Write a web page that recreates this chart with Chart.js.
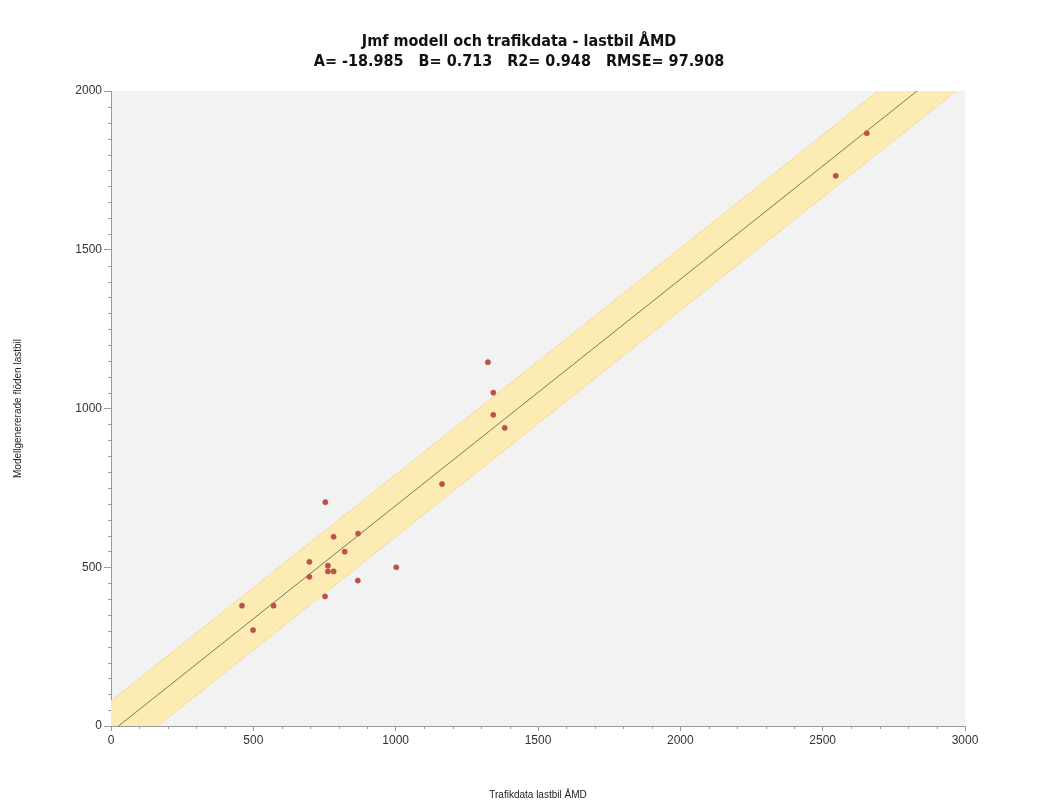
<!DOCTYPE html>
<html>
<head>
<meta charset="utf-8">
<title>Jmf modell och trafikdata - lastbil ÅMD</title>
<script src="https://cdn.jsdelivr.net/npm/chart.js@4/dist/chart.umd.min.js"></script>
<style>
  html, body { margin: 0; padding: 0; background: #fff; }
  canvas { display: block; }
</style>
</head>
<body>
<canvas id="jmfChart" width="1060" height="801"></canvas>
<script>
// Trafikdata (x) och modellgenererade flöden (y), lastbil ÅMD
const trafikdata = [460, 499, 571, 697, 697, 753, 752, 762, 762, 782, 782, 821, 868, 867, 1002, 1163, 1324, 1343, 1343, 1383, 2546, 2655];
const modell = [379, 302, 379, 517, 470, 705, 408, 505, 487, 487, 596, 549, 606, 458, 500, 762, 1146, 1050, 980, 939, 1733, 1867];

// regression from title
const fitA = -18.985;
const fitB = 0.713;
const fitR2 = 0.948;
const fitRMSE = 97.908;
const fitX = [0, 3000];

const xTicks = [0, 500, 1000, 1500, 2000, 2500, 3000];
const yTicks = [0, 500, 1000, 1500, 2000];
const xMinorStep = 100;
const yMinorStep = 50;

const points = trafikdata.map((x, i) => ({ x: x, y: modell[i] }));
const fitLine = fitX.map(x => ({ x: x, y: fitA + fitB * x }));
const bandUpper = fitX.map(x => ({ x: x, y: fitA + fitB * x + fitRMSE }));
const bandLower = fitX.map(x => ({ x: x, y: fitA + fitB * x - fitRMSE }));

const axisColor = "#9a9a9a";

// grå bakgrund i diagramytan
const plotBackground = {
    id: "plotBackground",
    beforeDraw(chart) {
        const { ctx, chartArea } = chart;
        ctx.save();
        ctx.fillStyle = "#f2f2f2";
        ctx.fillRect(chartArea.left, chartArea.top, chartArea.right - chartArea.left, chartArea.bottom - chartArea.top);
        ctx.restore();
    },
};

// små mellanstreck på axlarna
const minorTicks = {
    id: "minorTicks",
    afterDraw(chart) {
        const { ctx, chartArea } = chart;
        const xs = chart.scales.x;
        const ys = chart.scales.y;
        ctx.save();
        ctx.strokeStyle = axisColor;
        ctx.lineWidth = 1;
        ctx.beginPath();
        for (let v = xs.min; v <= xs.max; v += xMinorStep) {
            if (v % 500 === 0) continue;
            const px = Math.round(xs.getPixelForValue(v)) + 0.5;
            ctx.moveTo(px, chartArea.bottom);
            ctx.lineTo(px, chartArea.bottom + 3);
        }
        for (let v = ys.min; v <= ys.max; v += yMinorStep) {
            if (v % 500 === 0) continue;
            const py = Math.round(ys.getPixelForValue(v)) + 0.5;
            ctx.moveTo(chartArea.left, py);
            ctx.lineTo(chartArea.left - 3, py);
        }
        ctx.stroke();
        ctx.restore();
    },
};

const ctx = document.getElementById("jmfChart").getContext("2d");
new Chart(ctx, {
    type: "scatter",
    data: {
        datasets: [
            {
                data: points,
                backgroundColor: "#c0504d",
                borderColor: "#b4463f",
                borderWidth: 0.5,
                pointRadius: 2.6,
                order: 0,
            },
            {
                type: "line",
                data: fitLine,
                borderColor: "#5a5a4a",
                borderWidth: 0.8,
                pointRadius: 0,
                fill: false,
                order: 1,
            },
            {
                type: "line",
                data: bandUpper,
                borderColor: "#f3dc9c",
                borderWidth: 1,
                pointRadius: 0,
                fill: false,
                order: 2,
            },
            {
                type: "line",
                data: bandLower,
                borderColor: "#f3dc9c",
                borderWidth: 1,
                backgroundColor: "#fcebb2",
                pointRadius: 0,
                fill: "-1",
                order: 3,
            },
        ],
    },
    options: {
        responsive: false,
        animation: false,
        layout: { padding: { left: 0, right: 22, top: 0, bottom: 0 } },
        plugins: {
            legend: { display: false },
            tooltip: { enabled: false },
            title: {
                display: true,
                text: [
                    "Jmf modell och trafikdata - lastbil ÅMD",
                    "A= " + fitA.toFixed(3) + "   B= " + fitB.toFixed(3) + "   R2= " + fitR2.toFixed(3) + "   RMSE= " + fitRMSE.toFixed(3),
                ],
                color: "#111",
                font: { family: "Tahoma, 'DejaVu Sans Condensed', 'DejaVu Sans', sans-serif", size: 16, weight: "bold", lineHeight: "20px" },
                padding: { top: 32, bottom: 19 },
            },
        },
        scales: {
            x: {
                type: "linear",
                min: 0,
                max: 3000,
                afterBuildTicks(scale) {
                    scale.ticks = xTicks.map(v => ({ value: v }));
                },
                afterFit(scale) {
                    scale.height = 75;
                },
                grid: { drawOnChartArea: false, tickLength: 5, color: axisColor },
                border: { color: axisColor },
                ticks: {
                    color: "#333",
                    padding: 2,
                    maxRotation: 0,
                    font: { family: "'Liberation Sans', Arial, sans-serif", size: 12 },
                    callback: v => String(v),
                },
                title: {
                    display: true,
                    text: "Trafikdata lastbil ÅMD",
                    color: "#222",
                    font: { family: "'Liberation Sans', Arial, sans-serif", size: 10, lineHeight: "12px" },
                    padding: { top: 0, bottom: 0 },
                },
            },
            y: {
                type: "linear",
                position: "left",
                min: 0,
                max: 2000,
                afterBuildTicks(scale) {
                    scale.ticks = yTicks.map(v => ({ value: v }));
                },
                afterFit(scale) {
                    scale.width = 111;
                },
                grid: { drawOnChartArea: false, tickLength: 7, color: axisColor },
                border: { color: axisColor },
                ticks: {
                    color: "#333",
                    padding: 2,
                    font: { family: "'Liberation Sans', Arial, sans-serif", size: 12 },
                    callback: v => String(v),
                },
                title: {
                    display: true,
                    text: "Modellgenererade flöden lastbil",
                    color: "#222",
                    font: { family: "'Liberation Sans', Arial, sans-serif", size: 10, lineHeight: "12px" },
                    padding: { top: 12, bottom: 0 },
                },
            },
            spacer: {
                type: "linear",
                position: "right",
                display: true,
                grid: { display: false, drawTicks: false },
                border: { display: false },
                ticks: { display: false },
                afterFit(scale) {
                    scale.width = 73;
                },
            },
        },
    },
    plugins: [plotBackground, minorTicks],
});
</script>
</body>
</html>
